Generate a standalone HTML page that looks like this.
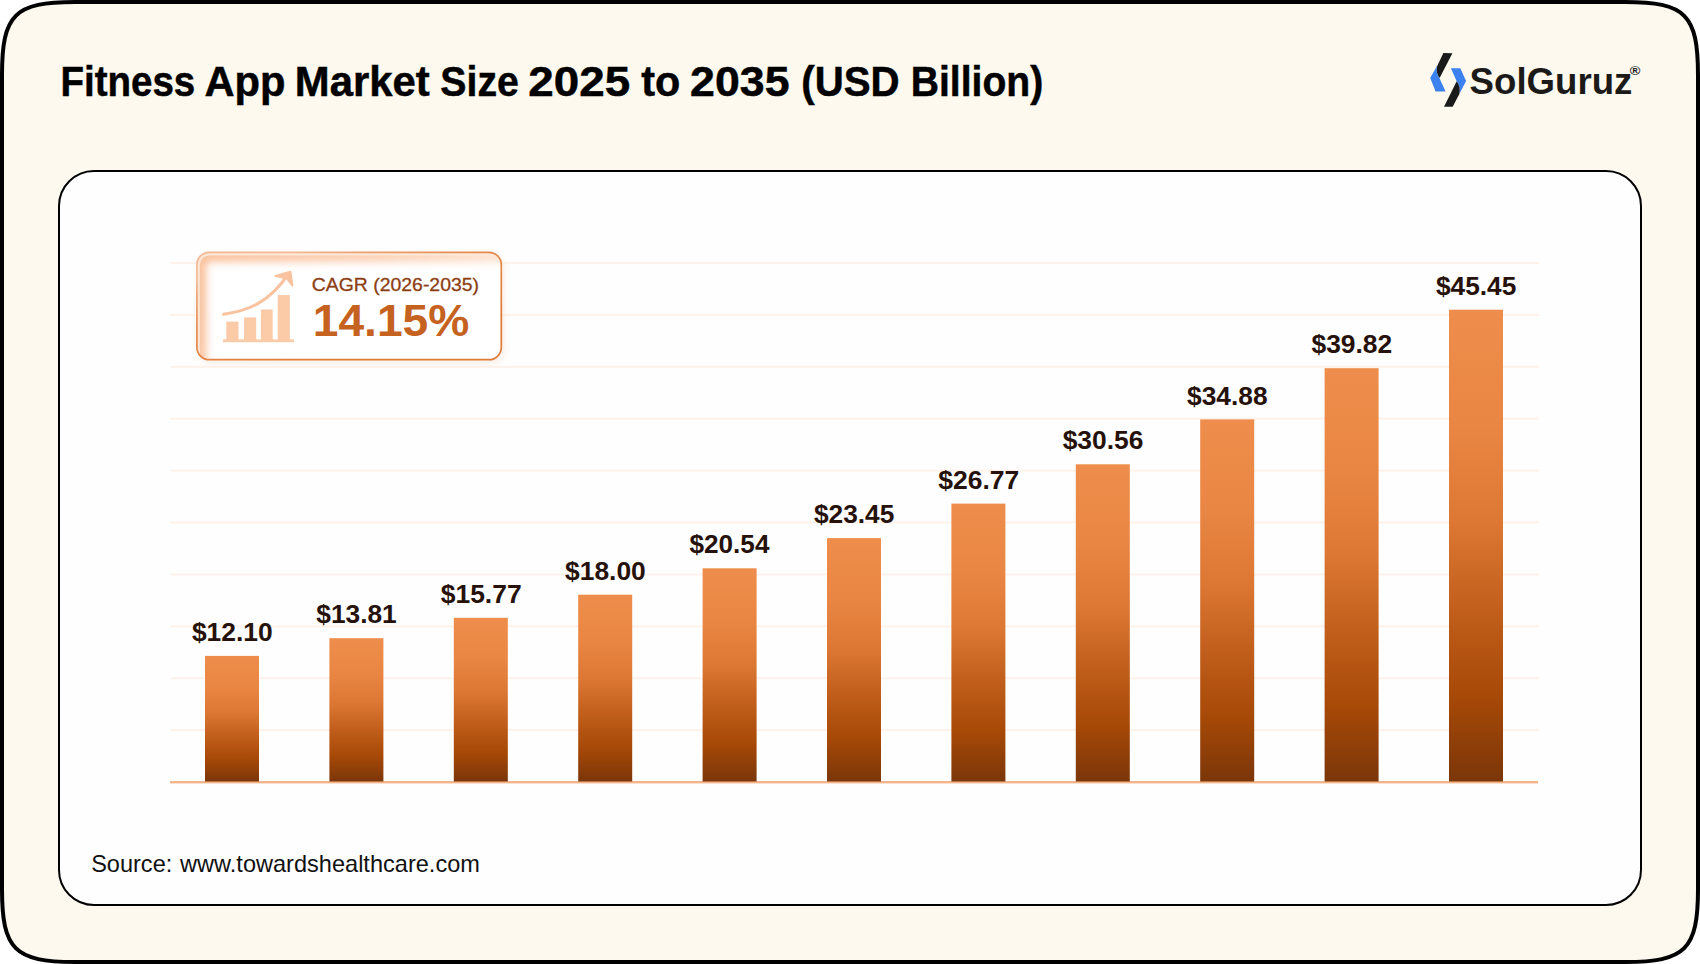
<!DOCTYPE html>
<html lang="en">
<head>
<meta charset="utf-8">
<title>Fitness App Market Size 2025 to 2035 (USD Billion)</title>
<style>
html,body{margin:0;padding:0;background:#ffffff;}
body{width:1700px;height:964px;overflow:hidden;font-family:"Liberation Sans",sans-serif;}
svg{display:block;}
text{font-family:"Liberation Sans",sans-serif;}
</style>
</head>
<body>
<svg width="1700" height="964" viewBox="0 0 1700 964" role="img" aria-label="Fitness App Market Size 2025 to 2035 bar chart">
<defs>
<linearGradient id="bar" x1="0" y1="0" x2="0" y2="1">
<stop offset="0" stop-color="#ee8d4c"/>
<stop offset="0.25" stop-color="#ea8643"/>
<stop offset="0.45" stop-color="#dc7834"/>
<stop offset="0.64" stop-color="#c15e1b"/>
<stop offset="0.82" stop-color="#a74907"/>
<stop offset="1" stop-color="#7b3609"/>
</linearGradient>
<clipPath id="badgeClip"><rect x="196.2" y="251.6" width="305.6" height="108.6" rx="13" ry="13"/></clipPath>
<clipPath id="badgeClipIn"><rect x="199.6" y="255.2" width="320" height="120" rx="10" ry="10"/></clipPath>
<linearGradient id="badgeStroke" gradientUnits="userSpaceOnUse" x1="300" y1="251" x2="330" y2="361">
<stop offset="0" stop-color="#f3b996"/>
<stop offset="0.14" stop-color="#eca577"/>
<stop offset="0.4" stop-color="#e58c52"/>
<stop offset="1" stop-color="#df7a38"/>
</linearGradient>
<linearGradient id="glowFade" gradientUnits="userSpaceOnUse" x1="199" y1="254" x2="502" y2="360">
<stop offset="0" stop-color="#f9be97"/>
<stop offset="0.55" stop-color="#fbcfb2"/>
<stop offset="1" stop-color="#fde6d6"/>
</linearGradient>
<filter id="glow" x="-10%" y="-20%" width="120%" height="140%">
<feGaussianBlur stdDeviation="4"/>
</filter>
<filter id="soft" x="-10%" y="-10%" width="120%" height="130%">
<feGaussianBlur stdDeviation="3"/>
</filter>
</defs>
<!-- outer frame -->
<path d="M75 2 H1625 C1685.5 2 1698 14.5 1698 75 V889 C1698 949.5 1685.5 962 1625 962 H75 C14.5 962 2 949.5 2 889 V75 C2 14.5 14.5 2 75 2 Z" fill="#fdf9ee" stroke="#000000" stroke-width="4"/>
<!-- title -->
<text y="95.9" font-size="42.5" font-weight="700" fill="#000000" stroke="#000000" stroke-width="0.5" xml:space="preserve"><tspan x="60.41" textLength="134.82" lengthAdjust="spacingAndGlyphs">Fitness</tspan> <tspan x="204.42" textLength="81.01" lengthAdjust="spacingAndGlyphs">App</tspan> <tspan x="294.79" textLength="134.91" lengthAdjust="spacingAndGlyphs">Market</tspan> <tspan x="440.35" textLength="78.48" lengthAdjust="spacingAndGlyphs">Size</tspan> <tspan x="528.39" textLength="101.74" lengthAdjust="spacingAndGlyphs">2025</tspan> <tspan x="641.31" textLength="39.06" lengthAdjust="spacingAndGlyphs">to</tspan> <tspan x="690.12" textLength="99.38" lengthAdjust="spacingAndGlyphs">2035</tspan> <tspan x="801.31" textLength="98.28" lengthAdjust="spacingAndGlyphs">(USD</tspan> <tspan x="910.77" textLength="132.47" lengthAdjust="spacingAndGlyphs">Billion)</tspan></text>
<!-- logo -->
<g>
<path d="M1443.4 53 L1452.4 53.3 L1439.6 78 C1436.4 74 1436 69.5 1437.2 66 Z" fill="#1a1a1a"/>
<path d="M1437.1 65.7 L1430.2 78 L1435.6 91.5 L1445.6 91.5 L1439.4 78 C1436.6 74 1436 69.5 1437.1 65.7 Z" fill="#3b82f0"/>
<path d="M1450.9 68.2 L1460.3 68.2 L1466.1 80.9 L1459.2 94.2 C1460.4 90 1459.6 85 1456.7 81.3 Z" fill="#3b82f0"/>
<path d="M1456.7 81.3 C1459.6 85 1460.4 90 1459.2 94.2 L1452.7 106.7 L1444 106.7 Z" fill="#1a1a1a"/>
</g>
<text x="1469.62" y="93.5" font-size="37.2" font-weight="700" fill="#1c1a18" textLength="162.69" lengthAdjust="spacingAndGlyphs">SolGuruz</text>
<text x="1629.83" y="75.0" font-size="13.6" font-weight="700" fill="#1c1a18" textLength="10.65" lengthAdjust="spacingAndGlyphs">®</text>
<!-- card -->
<rect x="59" y="171" width="1582" height="734" rx="35" ry="35" fill="#fefefe" stroke="#000000" stroke-width="2"/>
<rect x="170" y="729.1" width="1369" height="2" fill="#fef2ea"/>
<rect x="170" y="677.2" width="1369" height="2" fill="#fef2ea"/>
<rect x="170" y="625.3" width="1369" height="2" fill="#fef2ea"/>
<rect x="170" y="573.4" width="1369" height="2" fill="#fef2ea"/>
<rect x="170" y="521.5" width="1369" height="2" fill="#fef2ea"/>
<rect x="170" y="469.6" width="1369" height="2" fill="#fef2ea"/>
<rect x="170" y="417.7" width="1369" height="2" fill="#fef2ea"/>
<rect x="170" y="365.8" width="1369" height="2" fill="#fef2ea"/>
<rect x="170" y="313.9" width="1369" height="2" fill="#fef2ea"/>
<rect x="170" y="262.0" width="1369" height="2" fill="#fef2ea"/>
<rect x="170" y="781" width="1368" height="2.4" fill="#f3b48a"/>
<rect x="205.0" y="655.9" width="54" height="125.6" fill="url(#bar)"/>
<rect x="329.4" y="638.2" width="54" height="143.3" fill="url(#bar)"/>
<rect x="453.8" y="617.8" width="54" height="163.7" fill="url(#bar)"/>
<rect x="578.2" y="594.7" width="54" height="186.8" fill="url(#bar)"/>
<rect x="702.6" y="568.3" width="54" height="213.2" fill="url(#bar)"/>
<rect x="827.0" y="538.1" width="54" height="243.4" fill="url(#bar)"/>
<rect x="951.4" y="503.6" width="54" height="277.9" fill="url(#bar)"/>
<rect x="1075.8" y="464.3" width="54" height="317.2" fill="url(#bar)"/>
<rect x="1200.2" y="419.4" width="54" height="362.1" fill="url(#bar)"/>
<rect x="1324.6" y="368.2" width="54" height="413.3" fill="url(#bar)"/>
<rect x="1449.0" y="309.7" width="54" height="471.8" fill="url(#bar)"/>
<text x="191.90" y="641.0" font-size="26.4" font-weight="700" fill="#26120a" textLength="80.69" lengthAdjust="spacingAndGlyphs">$12.10</text>
<text x="316.30" y="623.3" font-size="26.4" font-weight="700" fill="#26120a" textLength="80.44" lengthAdjust="spacingAndGlyphs">$13.81</text>
<text x="440.70" y="602.9" font-size="26.4" font-weight="700" fill="#26120a" textLength="80.95" lengthAdjust="spacingAndGlyphs">$15.77</text>
<text x="565.10" y="579.8" font-size="26.4" font-weight="700" fill="#26120a" textLength="80.69" lengthAdjust="spacingAndGlyphs">$18.00</text>
<text x="689.50" y="553.4" font-size="26.4" font-weight="700" fill="#26120a" textLength="79.93" lengthAdjust="spacingAndGlyphs">$20.54</text>
<text x="813.90" y="523.2" font-size="26.4" font-weight="700" fill="#26120a" textLength="80.44" lengthAdjust="spacingAndGlyphs">$23.45</text>
<text x="938.30" y="488.7" font-size="26.4" font-weight="700" fill="#26120a" textLength="80.95" lengthAdjust="spacingAndGlyphs">$26.77</text>
<text x="1062.70" y="449.4" font-size="26.4" font-weight="700" fill="#26120a" textLength="80.69" lengthAdjust="spacingAndGlyphs">$30.56</text>
<text x="1187.10" y="404.5" font-size="26.4" font-weight="700" fill="#26120a" textLength="80.44" lengthAdjust="spacingAndGlyphs">$34.88</text>
<text x="1311.50" y="353.3" font-size="26.4" font-weight="700" fill="#26120a" textLength="80.69" lengthAdjust="spacingAndGlyphs">$39.82</text>
<text x="1435.90" y="294.8" font-size="26.4" font-weight="700" fill="#26120a" textLength="80.44" lengthAdjust="spacingAndGlyphs">$45.45</text>
<!-- CAGR badge -->
<rect x="199" y="255" width="305" height="108" rx="13" ry="13" fill="#f3cdb0" opacity="0.35" filter="url(#soft)"/>
<rect x="196.2" y="251.6" width="305.6" height="108.6" rx="13" ry="13" fill="#ffffff"/>
<g clip-path="url(#badgeClip)">
<rect x="196.2" y="251.6" width="305.6" height="108.6" rx="13" ry="13" fill="#fde7d6"/>
<rect x="199.6" y="255.2" width="320" height="120" rx="10" ry="10" fill="#ffffff"/>
<g clip-path="url(#badgeClipIn)"><path d="M199.6 380 V265.2 Q199.6 255.2 209.6 255.2 H520" fill="none" stroke="url(#glowFade)" stroke-width="13" filter="url(#glow)"/></g>
</g>
<rect x="196.9" y="252.3" width="304.4" height="107.4" rx="12.4" ry="12.4" fill="none" stroke="url(#badgeStroke)" stroke-width="1.7"/>
<g fill="#fbcaa7">
<rect x="226.3" y="321.6" width="12.2" height="18.4"/>
<rect x="244.1" y="317.4" width="12.1" height="22.6"/>
<rect x="260.9" y="309.5" width="11.8" height="30.5"/>
<rect x="277.7" y="295" width="12.1" height="45"/>
<rect x="223" y="339.4" width="71" height="2.8"/>
</g>
<path d="M223.6 314.2 C248 311 270 302 288.2 274.2" fill="none" stroke="#fac3a0" stroke-width="3.1" stroke-linecap="round"/>
<path d="M275.4 275.9 L290.4 271.7 L292.5 285.6 L286.6 278.2 Z" fill="#fac3a0" stroke="#fac3a0" stroke-width="2" stroke-linecap="round" stroke-linejoin="round"/>
<text x="311.82" y="291.3" font-size="17.9" fill="#8c3e12" stroke="#8c3e12" stroke-width="0.3" textLength="167.19" lengthAdjust="spacingAndGlyphs">CAGR (2026-2035)</text>
<text x="312.69" y="336.0" font-size="43.6" font-weight="700" fill="#c6621f" textLength="156.70" lengthAdjust="spacingAndGlyphs">14.15%</text>
<!-- source -->
<text y="871.9" font-size="23.6" fill="#111111" xml:space="preserve"><tspan x="91.15" textLength="81.12" lengthAdjust="spacingAndGlyphs">Source:</tspan> <tspan x="180.10" textLength="299.79" lengthAdjust="spacingAndGlyphs">www.towardshealthcare.com</tspan></text>
</svg>
</body>
</html>
